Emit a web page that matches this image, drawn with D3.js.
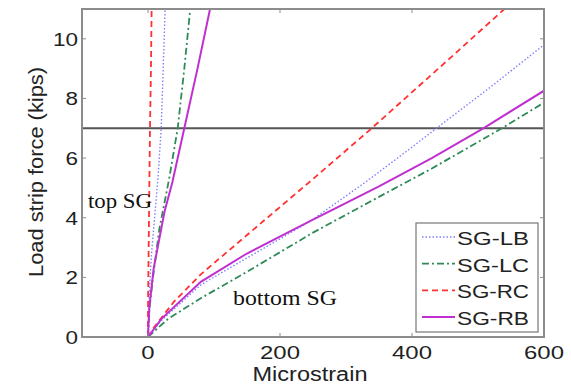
<!DOCTYPE html>
<html>
<head>
<meta charset="utf-8">
<script src="https://cdn.jsdelivr.net/npm/d3@7"></script>
<style>
  body { margin: 0; background: #fff; }
  svg { font-family: "Liberation Sans", Arial, sans-serif; }
</style>
</head>
<body>
<svg width="571" height="385"></svg>
<script>
// strain gauge readings: [microstrain, kips]
const lbTop = [[0,0],[2,1.5],[5,2.7],[10,4],[15,5.3],[20,7],[23,9],[26,11]];
const lcTop = [[0,0],[2,0.9],[7,1.9],[17,3.6],[32,5.3],[45,7],[55,9],[64,11]];
const rcTop = [[0,0],[0,1],[1,3],[2,5],[3,7],[4.5,9],[5.5,11]];
const rbTop = [[0,0],[2,1],[8.6,2.3],[25,4.2],[37,5.2],[55,7],[75,9],[94,11]];

const lbBot = [[0,0],[20,0.55],[80,1.75],[150,2.65],[247,3.9],[330,5.2],[399,6.35],[437,7],[520,8.4],[600,9.8]];
const lcBot = [[0,0],[30,0.6],[80,1.3],[151,2.2],[250,3.5],[350,4.7],[430,5.65],[536,7],[600,7.86]];
const rcBot = [[0,0],[10,0.35],[40,1.2],[80,2.1],[150,3.42],[250,5.3],[339,7],[450,9.2],[540,11]];
const rbBot = [[0,0],[20,0.6],[80,1.85],[150,2.8],[247,3.9],[350,5.05],[430,6.0],[508,7],[600,8.26]];

const seriesNames = ['SG-LB', 'SG-LC', 'SG-RC', 'SG-RB'];
const xTicks = [0, 200, 400, 600];
const yTicks = [0, 2, 4, 6, 8, 10];
const refForce = 7;

const svg = d3.select('svg');

const x = d3.scaleLinear().domain([-100, 600]).range([82, 544]);
const y = d3.scaleLinear().domain([0, 11]).range([337, 9]);

const styles = {
  'SG-LB': { color: '#7f7fff', width: 1.4, dash: '1.5,2' },
  'SG-LC': { color: '#2e8b57', width: 1.8, dash: '7,3,2,3' },
  'SG-RC': { color: '#ff3030', width: 1.8, dash: '6,4' },
  'SG-RB': { color: '#c030d0', width: 2, dash: null }
};

svg.append('clipPath').attr('id', 'plot')
  .append('rect')
    .attr('x', x(-100)).attr('y', y(11))
    .attr('width', x(600) - x(-100)).attr('height', y(0) - y(11));

// the y = 7 kips line
svg.append('line')
  .attr('x1', x(-100)).attr('x2', x(600))
  .attr('y1', y(refForce)).attr('y2', y(refForce))
  .attr('stroke', '#555').attr('stroke-width', 2.2);

const line = d3.line().x(d => x(d[0])).y(d => y(d[1]));
const g = svg.append('g').attr('clip-path', 'url(#plot)');

const curves = [
  ['SG-LB', lbBot], ['SG-LC', lcBot], ['SG-RC', rcBot], ['SG-RB', rbBot],
  ['SG-LB', lbTop], ['SG-LC', lcTop], ['SG-RC', rcTop], ['SG-RB', rbTop]
];
curves.forEach(([name, pts]) => {
  const s = styles[name];
  g.append('path')
    .attr('d', line(pts))
    .attr('fill', 'none')
    .attr('stroke', s.color)
    .attr('stroke-width', s.width)
    .attr('stroke-dasharray', s.dash);
});

// box + inward ticks on all four sides
svg.append('rect')
  .attr('x', x(-100)).attr('y', y(11))
  .attr('width', x(600) - x(-100)).attr('height', y(0) - y(11))
  .attr('fill', 'none').attr('stroke', '#8c8c8c').attr('stroke-width', 2);

const tk = 4;
xTicks.forEach(t => {
  svg.append('line').attr('x1', x(t)).attr('x2', x(t))
    .attr('y1', y(0)).attr('y2', y(0) - tk).attr('stroke', '#8c8c8c');
  svg.append('line').attr('x1', x(t)).attr('x2', x(t))
    .attr('y1', y(11)).attr('y2', y(11) + tk).attr('stroke', '#8c8c8c');
});
yTicks.forEach(t => {
  svg.append('line').attr('x1', x(-100)).attr('x2', x(-100) + tk)
    .attr('y1', y(t)).attr('y2', y(t)).attr('stroke', '#8c8c8c');
  svg.append('line').attr('x1', x(600)).attr('x2', x(600) - tk)
    .attr('y1', y(t)).attr('y2', y(t)).attr('stroke', '#8c8c8c');
});

// tick labels (stretched a bit wide, like the picture)
svg.selectAll('.xl').data(xTicks).enter().append('text')
  .attr('x', d => x(d)).attr('y', 359)
  .attr('text-anchor', 'middle').attr('font-size', 19).attr('fill', '#222')
  .attr('textLength', d => String(d).length * 13.3)
  .attr('lengthAdjust', 'spacingAndGlyphs')
  .text(d => d);

svg.selectAll('.yl').data(yTicks).enter().append('text')
  .attr('x', 78).attr('y', d => y(d) + 7)
  .attr('text-anchor', 'end').attr('font-size', 19).attr('fill', '#222')
  .attr('textLength', d => String(d).length * 12.5)
  .attr('lengthAdjust', 'spacingAndGlyphs')
  .text(d => d);

svg.append('text')
  .attr('x', 310).attr('y', 381)
  .attr('text-anchor', 'middle').attr('font-size', 20).attr('fill', '#222')
  .attr('textLength', 115).attr('lengthAdjust', 'spacingAndGlyphs')
  .text('Microstrain');

svg.append('text')
  .attr('transform', 'translate(43,172) rotate(-90)')
  .attr('text-anchor', 'middle').attr('font-size', 20).attr('fill', '#222')
  .attr('textLength', 210).attr('lengthAdjust', 'spacingAndGlyphs')
  .text('Load strip force (kips)');

// annotations, in a serif face
svg.append('text')
  .attr('x', 88).attr('y', 208)
  .style('font-family', '"Liberation Serif", "Times New Roman", serif')
  .attr('font-size', 20).attr('fill', '#111')
  .attr('textLength', 64).attr('lengthAdjust', 'spacingAndGlyphs')
  .text('top SG');

svg.append('text')
  .attr('x', 233).attr('y', 305)
  .style('font-family', '"Liberation Serif", "Times New Roman", serif')
  .attr('font-size', 20).attr('fill', '#111')
  .attr('textLength', 104).attr('lengthAdjust', 'spacingAndGlyphs')
  .text('bottom SG');

// legend
const lg = svg.append('g');
lg.append('rect')
  .attr('x', 416).attr('y', 223).attr('width', 122).attr('height', 109)
  .attr('fill', '#fff').attr('stroke', '#777').attr('stroke-width', 1.2);

seriesNames.forEach((name, i) => {
  const s = styles[name];
  const ly = 237 + i * 26.7;
  lg.append('line')
    .attr('x1', 422).attr('x2', 455).attr('y1', ly).attr('y2', ly)
    .attr('stroke', s.color).attr('stroke-width', s.width)
    .attr('stroke-dasharray', s.dash);
  lg.append('text')
    .attr('x', 457).attr('y', ly + 8)
    .attr('font-size', 19).attr('fill', '#222')
    .attr('textLength', 72).attr('lengthAdjust', 'spacingAndGlyphs')
    .text(name);
});
</script>
</body>
</html>
